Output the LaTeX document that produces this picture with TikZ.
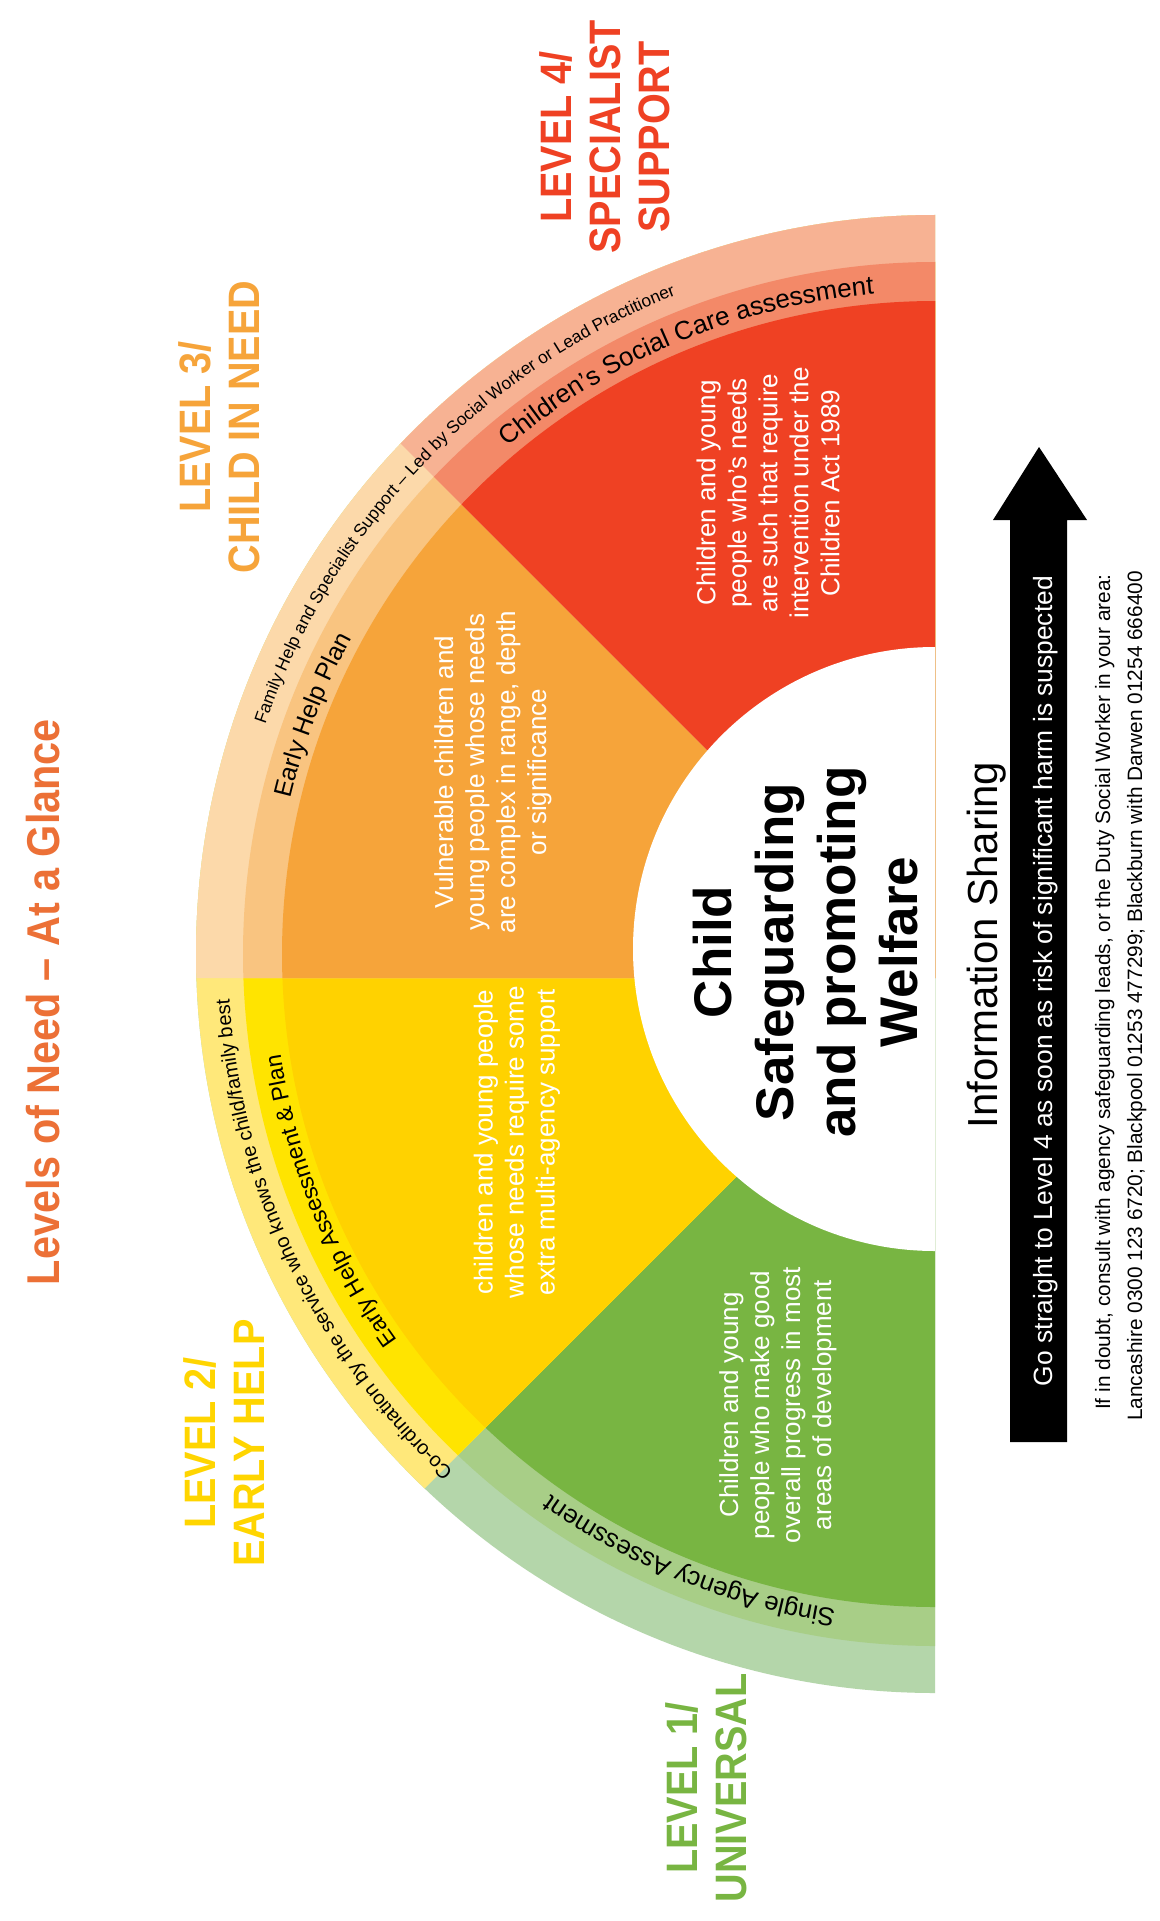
\documentclass[tikz,border=0pt]{standalone}
\usepackage{fontspec}
\setmainfont{Liberation Sans}
\newfontfamily\headfont[FakeStretch=0.9]{Liberation Sans Bold}
\usetikzlibrary{decorations.text, calc}

\definecolor{redin}{RGB}{239,65,35}
\definecolor{redmid}{RGB}{243,137,104}
\definecolor{redout}{RGB}{247,178,147}
\definecolor{orangein}{RGB}{246,164,58}
\definecolor{orangemid}{RGB}{249,196,128}
\definecolor{orangeout}{RGB}{252,217,170}
\definecolor{yellowin}{RGB}{255,210,0}
\definecolor{yellowmid}{RGB}{255,228,0}
\definecolor{yellowout}{RGB}{255,232,122}
\definecolor{greenin}{RGB}{120,181,66}
\definecolor{greenmid}{RGB}{168,206,135}
\definecolor{greenout}{RGB}{180,214,170}
\definecolor{titleorange}{RGB}{236,112,54}
\definecolor{lvlyellow}{RGB}{255,213,0}

\tikzset{
  sectortext/.style={white, rotate=90, align=center, inner sep=0pt, font=\fontsize{13}{15.5}\selectfont},
  leveltitle/.style={rotate=90, align=center, inner sep=0pt, font=\headfont\fontsize{22}{24.5}\selectfont},
  bandtext/.style={decorate, decoration={text along path, text align=center, text={#1}}}
}

\begin{document}
\begin{tikzpicture}[x=0.5pt,y=0.5pt,yscale=-1,xscale=1]
\useasboundingbox (0,0) rectangle (1160,1921);
\fill[white] (0,0) rectangle (1160,1921);

\coordinate (C) at (935,954);   % centre of the rings
\coordinate (S) at (935,978);   % apex of the wedges
\coordinate (W) at (935,949);   % centre of the white hub

%Shape: Wedges, each one painted over the rest of the half ring
\foreach \a/\cout/\cmid/\cin in {90/greenout/greenmid/greenin, 135/yellowout/yellowmid/yellowin, 180/orangeout/orangemid/orangein, 225/redout/redmid/redin}{
  \begin{scope}
    \clip (S) -- ++(\a:950) arc[start angle=\a, end angle=272, radius=950] -- cycle;
    \fill[\cout] (C) -- ++(90:739) arc[start angle=90, end angle=270, radius=739] -- cycle;
    \fill[\cmid] (C) -- ++(90:692) arc[start angle=90, end angle=270, radius=692] -- cycle;
    \fill[\cin] (C) -- ++(90:653) arc[start angle=90, end angle=270, radius=653] -- cycle;
  \end{scope}
}

%Shape: Hub
\fill[white] (W) -- ++(90:302) arc[start angle=90, end angle=270, radius=302] -- cycle;

% Band texts along the arcs
\path[bandtext={|\fontsize{10}{12}\selectfont|Co-ordination by the service who knows the child/family best}]
  ($(C)+(120:707)$) arc[start angle=120, end angle=189.2, radius=707];
\path[bandtext={|\fontsize{8.7}{10}\selectfont|Family Help and Specialist Support – Led by Social Worker or Lead Practitioner}]
  ($(C)+(193.7:708)$) arc[start angle=193.7, end angle=253.7, radius=708];
\path[bandtext={|\fontsize{12.8}{15}\selectfont|Single Agency Assessment}]
  ($(C)+(90:663)$) arc[start angle=90, end angle=134, radius=663];
\path[bandtext={|\fontsize{11.5}{14}\selectfont|Early Help Assessment {\&} Plan}]
  ($(C)+(132.8:662)$) arc[start angle=132.8, end angle=182.8, radius=662];
\path[bandtext={|\fontsize{12.5}{15}\selectfont|Early Help Plan}]
  ($(C)+(186:663)$) arc[start angle=186, end angle=216, radius=663];
\path[bandtext={|\fontsize{13}{15}\selectfont|Children’s Social Care assessment}]
  ($(C)+(225.3:663)$) arc[start angle=225.3, end angle=269.3, radius=663];

% Text Node
\node[sectortext] (redtext) at (768,493) {Children and young\\people who’s needs\\are such that require\\intervention under the\\Children Act 1989};
% Text Node
\node[sectortext] (orangetext) at (493,772) {Vulnerable children and\\young people whose needs\\are complex in range, depth\\or significance};
% Text Node
\node[sectortext] (yellowtext) at (517,1142) {children and young people\\whose needs require some\\extra multi-agency support};
% Text Node
\node[sectortext] (greentext) at (778,1405) {Children and young\\people who make good\\overall progress in most\\areas of development};

% Text Node
\node[rotate=90, align=center, inner sep=0pt, font=\bfseries\fontsize{26.5}{31}\selectfont] (hub) at (806,952) {Child\\Safeguarding\\and promoting\\Welfare};

% Text Node
\node[rotate=90, anchor=base, inner sep=0pt, text=titleorange, font=\headfont\fontsize{23}{27}\selectfont] (title) at (59,1002) {Levels of Need – At a Glance};
% Text Node
\node[leveltitle, text=redin] (lvlfour) at (605,137) {LEVEL 4/\\SPECIALIST\\SUPPORT};
% Text Node
\node[leveltitle, text=orangein] (lvlthree) at (219,427) {LEVEL 3/\\CHILD IN NEED};
% Text Node
\node[leveltitle, text=lvlyellow] (lvltwo) at (224,1443) {LEVEL 2/\\EARLY HELP};
% Text Node
\node[leveltitle, text=greenin] (lvlone) at (706,1788) {LEVEL 1/\\UNIVERSAL};

%Shape: Arrow
\fill[black] (1010,1442) -- (1010,520) -- (993,520) -- (1039,447) -- (1087,520) -- (1067,520) -- (1067,1442) -- cycle;

% Text Node
\node[rotate=90, anchor=base, inner sep=0pt, font=\fontsize{21}{25}\selectfont] (sharing) at (997,945) {Information Sharing};
% Text Node
\node[rotate=90, anchor=base, inner sep=0pt, text=white, font=\fontsize{13.2}{16}\selectfont] (arrowtext) at (1052,981) {Go straight to Level 4 as soon as risk of significant harm is suspected};
% Text Node
\node[rotate=90, anchor=base, inner sep=0pt, font=\fontsize{10.4}{12}\selectfont] (doubt) at (1110,992) {If in doubt, consult with agency safeguarding leads, or the Duty Social Worker in your area:};
% Text Node
\node[rotate=90, anchor=base, inner sep=0pt, font=\fontsize{10.4}{12}\selectfont] (phones) at (1142,996) {Lancashire 0300 123 6720; Blackpool 01253 477299; Blackburn with Darwen 01254 666400};
\end{tikzpicture}
\end{document}
